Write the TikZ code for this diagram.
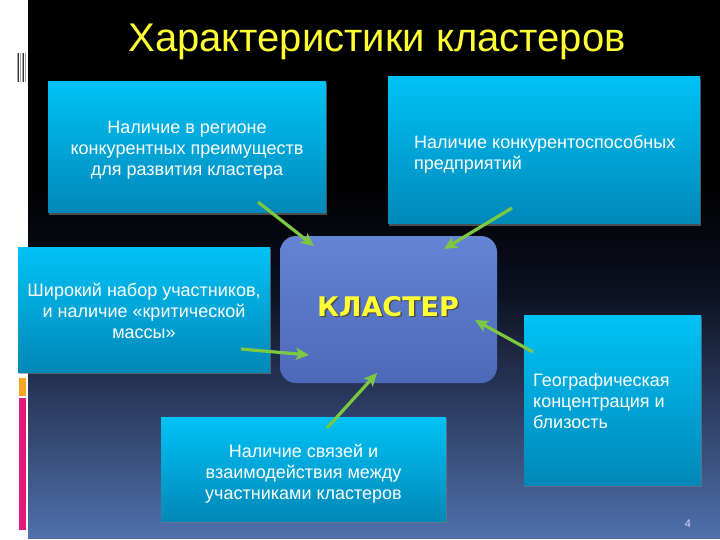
\documentclass[tikz,border=0pt]{standalone}
\usepackage{fontspec}
\setmainfont{Liberation Sans}
\newfontfamily\dejabold{DejaVu Sans}
\usetikzlibrary{arrows.meta,shadows}
\definecolor{bgbot}{HTML}{5070AC}
\definecolor{bgmid}{HTML}{0C1020}
\definecolor{boxtop}{HTML}{00C2F6}
\definecolor{boxbot}{HTML}{0088B8}
\definecolor{cltop}{HTML}{6484D4}
\definecolor{clbot}{HTML}{4E68B8}
\definecolor{arrowgreen}{HTML}{7CC842}
\definecolor{titleyellow}{HTML}{FFFF33}
\definecolor{pinkbar}{HTML}{E0197A}
\definecolor{orangebar}{HTML}{F5A623}
\tikzset{
  boxfont/.style={text=white, font=\fontsize{18}{21}\selectfont},
  infobox/.style={rectangle, inner sep=0pt, top color=boxtop, bottom color=boxbot,
    drop shadow={shadow xshift=1pt, shadow yshift=-2pt, opacity=0.6}, boxfont},
  greenarrow/.style={draw=arrowgreen, line width=3.2pt, -{Stealth[length=13pt,width=12pt,inset=3pt]}},
}
\begin{document}
\begin{tikzpicture}[x=1pt,y=-1pt]
\useasboundingbox (0,0) rectangle (720,540);
\fill[white] (0,0) rectangle (720,540);
% background panel
\fill[black] (28,0) rectangle (720,180);
\shade[top color=black, bottom color=bgmid] (28,180) rectangle (720,290);
\shade[top color=bgmid, bottom color=bgbot] (28,290) rectangle (720,538);
% left decorations
\foreach \x in {17,19.5,22,24.5} {\fill[gray!70] (\x,53) rectangle ++(1.2,29);}
\fill[black!80] (18.2,53) rectangle ++(0.8,29);
\fill[black!80] (23.2,53) rectangle ++(0.8,29);
\fill[orangebar] (19,378) rectangle (26,396);
\fill[pinkbar] (19,398) rectangle (26,530);
% title
\node[text=titleyellow, font=\fontsize{40}{44}\selectfont] (title) at (377,42) {Характеристики кластеров};
% boxes
\node[infobox, minimum width=278pt, minimum height=131pt] (b1) at (187,147.5) {};
\node[boxfont, align=center] (b1t) at (187,150.5)
  {Наличие в регионе\\конкурентных преимуществ\\для развития кластера};
\node[infobox, minimum width=312pt, minimum height=147pt] (b2) at (544,150.5) {};
\node[boxfont, align=left, anchor=north west, inner sep=0pt] (b2t) at (414,135)
  {Наличие конкурентоспособных\\предприятий};
\node[infobox, minimum width=252pt, minimum height=125pt] (b3) at (144,309.5) {};
\node[boxfont, align=center] (b3t) at (144,310.5)
  {Широкий набор участников,\\и наличие «критической\\массы»};
\node[infobox, minimum width=177pt, minimum height=170pt] (b5) at (612.5,400) {};
\node[boxfont, align=left, anchor=north west, inner sep=0pt] (b5t) at (533,373)
  {Географическая\\концентрация и\\близость};
\node[infobox, minimum width=285pt, minimum height=104pt] (b6) at (303.5,469) {};
\node[boxfont, align=center] (b6t) at (303.5,474)
  {Наличие связей и\\взаимодействия между\\участниками кластеров};
% central
\node[rectangle, rounded corners=16pt, minimum width=217pt, minimum height=147pt,
  top color=cltop, bottom color=clbot] (cl) at (388.5,309.5) {};
\node[text=black!70, font=\dejabold\bfseries\fontsize{27}{30}\selectfont] at (389.5,308) {КЛАСТЕР};
\node[text=titleyellow, font=\dejabold\bfseries\fontsize{27}{30}\selectfont] (clt) at (388,306.5) {КЛАСТЕР};
% arrows
\coordinate (a1s) at (258,202); \coordinate (a1e) at (314,246);
\coordinate (a2s) at (512,208); \coordinate (a2e) at (444,249);
\coordinate (a3s) at (241,349); \coordinate (a3e) at (309,355);
\coordinate (a4s) at (533,352); \coordinate (a4e) at (475,320);
\coordinate (a5s) at (327,428); \coordinate (a5e) at (377,373);
\draw[greenarrow] (a1s) -- (a1e);
\draw[greenarrow] (a2s) -- (a2e);
\draw[greenarrow] (a3s) -- (a3e);
\draw[greenarrow] (a4s) -- (a4e);
\draw[greenarrow] (a5s) -- (a5e);
% page number
\node[text=white!85!blue, font=\fontsize{11}{12}\selectfont] (pn) at (688,524) {4};
\end{tikzpicture}
\end{document}
